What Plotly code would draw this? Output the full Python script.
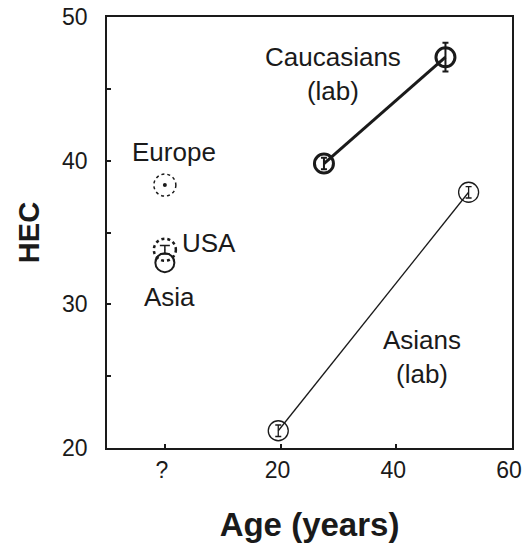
import plotly.graph_objects as go

# ---- data ----
caucasian_age = [27.5, 48.5]
caucasian_hec = [39.8, 47.2]
caucasian_err = [0.4, 1.0]

asian_age = [19.6, 52.5]
asian_hec = [21.2, 37.8]
asian_err = [0.4, 0.4]

survey_regions = ["Europe", "USA", "Asia"]
survey_age = [0, 0, 0]          # age unknown, plotted at "?"
survey_hec = [38.3, 33.8, 32.9]
survey_err = [0.0, 0.3, 0.0]

x_tickvals = [0, 20, 40, 60]
x_ticktext = ["?", "20", "40", "60"]
y_tickvals = [20, 25, 30, 35, 40, 45, 50]
y_ticktext = ["20", "", "30", "", "40", "", "50"]

FONT = "Liberation Sans, Arial, sans-serif"
INK = "#1a1a1a"

fig = go.Figure()

# Caucasians (lab): thick line
fig.add_trace(go.Scatter(
    x=caucasian_age, y=caucasian_hec, mode="lines+markers",
    line=dict(color=INK, width=3),
    marker=dict(symbol="circle-open", size=19, color=INK, line=dict(width=3)),
    error_y=dict(type="data", array=caucasian_err, color=INK, thickness=2, width=3),
    showlegend=False, hoverinfo="skip"))

# Asians (lab): thin line
fig.add_trace(go.Scatter(
    x=asian_age, y=asian_hec, mode="lines+markers",
    line=dict(color=INK, width=1.3),
    marker=dict(symbol="circle-open", size=20, color=INK, line=dict(width=1.3)),
    error_y=dict(type="data", array=asian_err, color=INK, thickness=1.3, width=3),
    showlegend=False, hoverinfo="skip"))

# Survey points (unknown age)
fig.add_trace(go.Scatter(
    x=[survey_age[2]], y=[survey_hec[2]], mode="markers",
    marker=dict(symbol="circle-open", size=19, color=INK, line=dict(width=2)),
    showlegend=False, hoverinfo="skip"))
fig.add_trace(go.Scatter(
    x=[survey_age[0]], y=[survey_hec[0]], mode="markers",
    marker=dict(symbol="circle", size=4, color=INK),
    showlegend=False, hoverinfo="skip"))
fig.add_trace(go.Scatter(
    x=[survey_age[1]], y=[survey_hec[1]], mode="markers",
    marker=dict(symbol="circle", size=1, color=INK),
    error_y=dict(type="data", array=[survey_err[1]], color=INK, thickness=1.5, width=5),
    showlegend=False, hoverinfo="skip"))

shapes = []
for i, (ax, hy) in enumerate(zip(survey_age, survey_hec)):
    if survey_regions[i] in ("Europe", "USA"):
        w = 1.5 if survey_regions[i] == "Europe" else 2.5
        shapes.append(dict(type="circle", xref="x", yref="y",
                           xsizemode="pixel", ysizemode="pixel",
                           xanchor=ax, yanchor=hy,
                           x0=-11, x1=11, y0=-11, y1=11,
                           line=dict(color=INK, width=w, dash="dot")))

# text labels
labels = [
    ("Caucasians<br>(lab)", 29.0, 46.0),
    ("Asians<br>(lab)", 44.5, 26.3),
    ("Europe", 1.5, 40.6),
    ("USA", 7.7, 34.3),
    ("Asia", 0.8, 30.5),
]
annotations = [dict(x=x, y=y, xref="x", yref="y", text=t, showarrow=False,
                    font=dict(family=FONT, size=26, color=INK),
                    xanchor="center", yanchor="middle")
               for t, x, y in labels]

fig.update_layout(
    width=523, height=550,
    margin=dict(l=107, r=11, t=17, b=102),
    paper_bgcolor="white", plot_bgcolor="white",
    font=dict(family=FONT, color=INK),
    shapes=shapes, annotations=annotations,
    xaxis=dict(range=[-10, 60], tickvals=x_tickvals, ticktext=x_ticktext,
               automargin=False, ticklabeloverflow="allow", ticklabelshift=-3,
               ticks="inside", ticklen=4, tickwidth=1.5, tickcolor=INK,
               showline=True, mirror=True, linecolor=INK, linewidth=1.5,
               showgrid=False, zeroline=False,
               tickfont=dict(size=23, family=FONT, color=INK),
               ticklabelstandoff=1,
               title=dict(text="<b>Age (years)</b>", standoff=31,
                          font=dict(size=33, family=FONT, color=INK))),
    yaxis=dict(range=[20, 50], tickvals=y_tickvals, ticktext=y_ticktext,
               automargin=False, ticklabeloverflow="allow",
               ticks="inside", ticklen=4, tickwidth=1.5, tickcolor=INK,
               showline=True, mirror=True, linecolor=INK, linewidth=1.5,
               showgrid=False, zeroline=False,
               tickfont=dict(size=23, family=FONT, color=INK),
               ticklabelstandoff=13,
               title=dict(text="<b>HEC</b>", standoff=14,
                          font=dict(size=29, family=FONT, color=INK))),
)

fig.write_html("out.html",
               config={"displayModeBar": False},
               post_script="document.body.style.margin='0';"
                           "document.body.style.overflow='hidden';")
